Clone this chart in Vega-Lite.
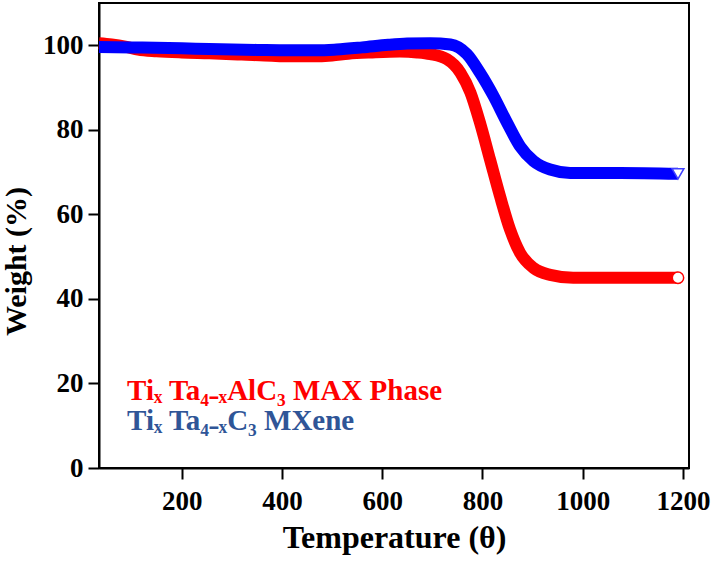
{
  "$schema": "https://vega.github.io/schema/vega-lite/v6.json",
  "width": 590,
  "height": 465,
  "autosize": {"type": "none"},
  "padding": {"left": 99, "top": 3, "right": 23, "bottom": 101},
  "background": "white",
  "config": {
    "view": {"stroke": "black", "strokeWidth": 2},
    "font": "Liberation Serif",
    "axis": {
      "grid": false,
      "domainColor": "black",
      "domainWidth": 2,
      "tickColor": "black",
      "tickWidth": 2,
      "tickSize": 11,
      "labelFont": "Liberation Serif",
      "labelFontWeight": "bold",
      "labelFontSize": 27,
      "labelColor": "black",
      "titleFont": "Liberation Serif",
      "titleFontWeight": "bold",
      "titleColor": "black"
    }
  },
  "datasets": {
    "red": [
      {"t": 35, "w": 100.5}, {"t": 60, "w": 100.2}, {"t": 90, "w": 99.6}, {"t": 113, "w": 99.0},
      {"t": 150, "w": 98.6}, {"t": 200, "w": 98.3}, {"t": 255, "w": 98.1}, {"t": 320, "w": 97.8},
      {"t": 380, "w": 97.5}, {"t": 414, "w": 97.4}, {"t": 460, "w": 97.4}, {"t": 500, "w": 97.6},
      {"t": 532, "w": 98.0}, {"t": 580, "w": 98.3}, {"t": 635, "w": 98.5}, {"t": 670, "w": 98.3},
      {"t": 696, "w": 97.9}, {"t": 729, "w": 96.7}, {"t": 756, "w": 93.5}, {"t": 776, "w": 88.8},
      {"t": 795, "w": 81.7}, {"t": 815, "w": 73.0}, {"t": 835, "w": 64.3}, {"t": 855, "w": 56.4},
      {"t": 875, "w": 50.9}, {"t": 902, "w": 47.3}, {"t": 935, "w": 45.7}, {"t": 981, "w": 45.0},
      {"t": 1075, "w": 45.0}, {"t": 1190, "w": 45.0}
    ],
    "blue": [
      {"t": 35, "w": 99.6}, {"t": 100, "w": 99.5}, {"t": 200, "w": 99.3}, {"t": 255, "w": 99.1},
      {"t": 350, "w": 98.9}, {"t": 414, "w": 98.8}, {"t": 470, "w": 98.8}, {"t": 509, "w": 99.0},
      {"t": 560, "w": 99.5}, {"t": 612, "w": 100.1}, {"t": 650, "w": 100.4}, {"t": 696, "w": 100.5},
      {"t": 736, "w": 100.2}, {"t": 769, "w": 97.9}, {"t": 795, "w": 93.5}, {"t": 822, "w": 88.0},
      {"t": 849, "w": 81.7}, {"t": 875, "w": 76.1}, {"t": 902, "w": 72.6}, {"t": 935, "w": 70.6},
      {"t": 975, "w": 69.8}, {"t": 1075, "w": 69.8}, {"t": 1190, "w": 69.6}
    ],
    "labels": [
      {"t": 91, "w": 16.1, "label": "Tiₓ Ta₄₋ₓAlC₃ MAX Phase", "series": "MAX"},
      {"t": 91, "w": 9.0, "label": "Tiₓ Ta₄₋ₓC₃ MXene", "series": "MXene"}
    ]
  },
  "encoding": {
    "x": {
      "field": "t", "type": "quantitative",
      "scale": {"domain": [35, 1212], "nice": false, "zero": false},
      "axis": {"values": [200, 400, 600, 800, 1000, 1200], "format": "d", "title": "Temperature (θ)", "titleFontSize": 32, "labelPadding": 9, "titlePadding": 8}
    },
    "y": {
      "field": "w", "type": "quantitative",
      "scale": {"domain": [0, 110], "nice": false},
      "axis": {"values": [0, 20, 40, 60, 80, 100], "format": "d", "title": "Weight (%)", "titleFontSize": 30, "labelPadding": 5, "titlePadding": 11, "titleY": 258}
    }
  },
  "layer": [
    {
      "data": {"name": "red"},
      "mark": {"type": "line", "color": "#ff0000", "strokeWidth": 12, "interpolate": "monotone"}
    },
    {
      "data": {"name": "blue"},
      "mark": {"type": "line", "color": "#0000ff", "strokeWidth": 12, "interpolate": "monotone"}
    },
    {
      "data": {"name": "red"},
      "transform": [{"filter": "datum.t == 1190"}],
      "mark": {"type": "point", "shape": "circle", "filled": true, "fill": "white", "stroke": "#ff0000", "strokeWidth": 1.5, "size": 130, "opacity": 1}
    },
    {
      "data": {"name": "blue"},
      "transform": [{"filter": "datum.t == 1190"}],
      "mark": {"type": "point", "shape": "triangle-down", "filled": true, "fill": "white", "stroke": "#4040ff", "strokeWidth": 1.5, "size": 140, "opacity": 1}
    },
    {
      "data": {"name": "labels"},
      "mark": {"type": "text", "align": "left", "baseline": "alphabetic", "font": "Liberation Serif", "fontWeight": "bold", "fontSize": 29},
      "encoding": {
        "text": {"field": "label"},
        "color": {"field": "series", "type": "nominal", "scale": {"domain": ["MAX", "MXene"], "range": ["#ff0000", "#2f5597"]}, "legend": null}
      }
    }
  ]
}
